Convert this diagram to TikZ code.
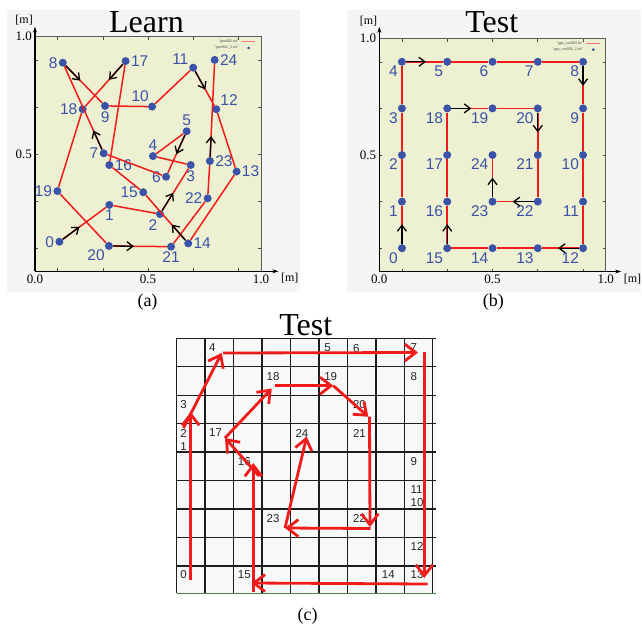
\documentclass[tikz,border=0pt]{standalone}
\usepackage{fontspec}
\setmainfont{Liberation Serif}
\setsansfont{Liberation Sans}
\usepackage{tikz}
\usetikzlibrary{arrows.meta, positioning, calc}

\definecolor{ptblue}{HTML}{3A52A8}
\definecolor{trackred}{HTML}{F01C1C}
\definecolor{plotbg}{HTML}{EEF0D2}
\definecolor{panelbg}{HTML}{F4F6F6}
\definecolor{gridbg}{HTML}{F7F8F8}
\definecolor{gridline}{HTML}{1E1E1E}

\tikzstyle{dot} = [circle, fill=ptblue, inner sep=0pt, minimum size=8pt]
\tikzstyle{num} = [text=ptblue, font=\sffamily\fontsize{15.5}{16}\selectfont, inner sep=1pt]
\tikzstyle{track} = [trackred, line width=1.5pt, line join=round]
\tikzstyle{dirarrow} = [black, line width=1.3pt, -{Straight Barb[length=6pt,width=9pt]}]
\tikzstyle{axis} = [black, line width=1.6pt, -{Stealth[length=6pt,width=4pt]}]
\tikzstyle{frameline} = [black!65, line width=0.8pt]
\tikzstyle{tickmark} = [black!70, line width=0.6pt]
\tikzstyle{ticklbl} = [font=\fontsize{13}{14}\selectfont, inner sep=0pt]
\tikzstyle{unitlbl} = [font=\fontsize{12}{14}\selectfont, inner sep=0pt]
\tikzstyle{title} = [font=\fontsize{32}{36}\selectfont, inner sep=0pt, anchor=base]
\tikzstyle{caption} = [font=\fontsize{18}{20}\selectfont, inner sep=0pt, anchor=base]
\tikzstyle{legend} = [text=black!70, font=\sffamily\fontsize{3.6}{4}\selectfont, inner sep=0pt, anchor=east]
\tikzstyle{cellnum} = [text=black!85, font=\sffamily\fontsize{11.5}{13}\selectfont,
  inner sep=0pt, anchor=north west, align=left, xshift=3.5pt, yshift=-5.5pt]
\tikzstyle{bigarrow} = [trackred, line width=2.8pt, -{Straight Barb[length=11pt,width=17pt]}]

% axes, border, ticks of one gnuplot panel (data coordinates 0..1)
\newcommand{\plotframe}[2]{%
  \fill[plotbg] (0,0) rectangle (1,1);
  \draw[frameline] (0,1) -- (1,1) -- (1,0);
  \foreach \tk in {0.1,0.3,0.5,0.7,0.9} {
    \draw[tickmark] (\tk,0) -- ++(0,3pt) (\tk,1) -- ++(0,-3pt)
                    (0,\tk) -- ++(3pt,0) (1,\tk) -- ++(-3pt,0);
  }
  \coordinate (ytip) at (0,#1);
  \coordinate (xtip) at (#2,0);
  \draw[axis] (0,0) -- (ytip);
  \draw[axis] (0,0) -- (xtip);
  \node[ticklbl, left=3pt] (y10) at (0,1) {1.0};
  \node[ticklbl, left=3pt] (y05) at (0,0.5) {0.5};
  \node[ticklbl, below=3pt] (x00) at (0,0) {0.0};
  \node[ticklbl, below=3pt] (x05) at (0.5,0) {0.5};
  \node[ticklbl, below=3pt] (x10) at (1,0) {1.0};
  \node[unitlbl, above left=1pt and 2pt of ytip] (yunit) {[m]};
  \node[unitlbl, below right=2pt and 2.5pt of xtip] (xunit) {[m]};
}
\newcommand{\plotlegend}[2]{%
  \node[legend] (leg1) at (0.900,0.980) {#1};
  \node[legend] (leg2) at (0.900,0.952) {#2};
  \coordinate (legs) at (0.915,0.980);
  \coordinate (lege) at (0.975,0.980);
  \draw[trackred!60, line width=0.6pt] (legs) -- (lege);
  \fill[ptblue] (0.945,0.952) circle (1.5pt);
}

\begin{document}
\begin{tikzpicture}[x=1pt, y=-1pt]
  \useasboundingbox (0,0) rectangle (642,627);

  % (a) learning run
  \fill[panelbg] (7,10) rectangle (300,292);
  \begin{scope}[shift={(35pt,-271.3pt)}, x=226pt, y=234.6pt]
    \plotframe{1.043}{1.077}
    \plotlegend{"geo002.txt"}{"geo002\_2.txt"}
    \node[dot, label={[num]left:0}] (a0) at (0.108,0.126) {};
    \node[dot, label={[num]below:1}] (a1) at (0.329,0.283) {};
    \node[dot, label={[num]250:2}] (a2) at (0.553,0.244) {};
    \node[dot, label={[num]below:3}] (a3) at (0.689,0.453) {};
    \node[dot, label={[num]above:4}] (a4) at (0.522,0.491) {};
    \node[dot, label={[num]above:5}] (a5) at (0.671,0.597) {};
    \node[dot, label={[num]left:6}] (a6) at (0.580,0.403) {};
    \node[dot, label={[num]left:7}] (a7) at (0.304,0.503) {};
    \node[dot, label={[num]left:8}] (a8) at (0.123,0.889) {};
    \node[dot, label={[num]below:9}] (a9) at (0.310,0.705) {};
    \node[dot, label={[num]120:10}] (a10) at (0.518,0.702) {};
    \node[dot, label={[num]150:11}] (a11) at (0.700,0.868) {};
    \node[dot, label={[num]45:12}] (a12) at (0.802,0.691) {};
    \node[dot, label={[num]right:13}] (a13) at (0.892,0.425) {};
    \node[dot, label={[num]right:14}] (a14) at (0.678,0.119) {};
    \node[dot, label={[num]left:15}] (a15) at (0.479,0.337) {};
    \node[dot, label={[num]right:16}] (a16) at (0.329,0.453) {};
    \node[dot, label={[num]right:17}] (a17) at (0.401,0.896) {};
    \node[dot, label={[num]left:18}] (a18) at (0.211,0.691) {};
    \node[dot, label={[num]left:19}] (a19) at (0.099,0.342) {};
    \node[dot, label={[num]below left:20}] (a20) at (0.327,0.108) {};
    \node[dot, label={[num]below:21}] (a21) at (0.602,0.105) {};
    \node[dot, label={[num]left:22}] (a22) at (0.764,0.311) {};
    \node[dot, label={[num]right:23}] (a23) at (0.774,0.470) {};
    \node[dot, label={[num]right:24}] (a24) at (0.795,0.901) {};
    \draw[track] (a0) -- (a1) -- (a2) -- (a3) -- (a4) -- (a5) -- (a6) -- (a7) -- (a8)
      -- (a9) -- (a10) -- (a11) -- (a12) -- (a13) -- (a14) -- (a15) -- (a16) -- (a17)
      -- (a18) -- (a19) -- (a20) -- (a21) -- (a22) -- (a23) -- (a24);
    \draw[dirarrow] (a0) -- ($(a0)!25pt!(a1)$);
    \draw[dirarrow] (a2) -- ($(a2)!25pt!(a3)$);
    \draw[dirarrow] (a5) -- ($(a5)!25pt!(a6)$);
    \draw[dirarrow] (a7) -- ($(a7)!25pt!(a8)$);
    \draw[dirarrow] (a8) -- ($(a8)!25pt!(a9)$);
    \draw[dirarrow] (a11) -- ($(a11)!25pt!(a12)$);
    \draw[dirarrow] (a14) -- ($(a14)!25pt!(a15)$);
    \draw[dirarrow] (a17) -- ($(a17)!25pt!(a18)$);
    \draw[dirarrow] (a20) -- ($(a20)!25pt!(a21)$);
    \draw[dirarrow] (a23) -- ($(a23)!25pt!(a24)$);
  \end{scope}
  \node[title] (learn) at (146.5,32) {Learn};
  \node[caption] (capa) at (147.5,306) {(a)};

  % (b) test run
  \fill[panelbg] (346.7,10) rectangle (641,292);
  \begin{scope}[shift={(379.3pt,-271.5pt)}, x=226.4pt, y=233pt]
    \plotframe{1.05}{1.068}
    \plotlegend{"gps\_run003.txt"}{"gps\_run003\_2.txt"}
    \node[dot, label={[num]below left:0}] (b0) at (0.1,0.1) {};
    \node[dot, label={[num]below left:1}] (b1) at (0.1,0.3) {};
    \node[dot, label={[num]below left:2}] (b2) at (0.1,0.5) {};
    \node[dot, label={[num]below left:3}] (b3) at (0.1,0.7) {};
    \node[dot, label={[num]below left:4}] (b4) at (0.1,0.9) {};
    \node[dot, label={[num]below left:5}] (b5) at (0.3,0.9) {};
    \node[dot, label={[num]below left:6}] (b6) at (0.5,0.9) {};
    \node[dot, label={[num]below left:7}] (b7) at (0.7,0.9) {};
    \node[dot, label={[num]below left:8}] (b8) at (0.9,0.9) {};
    \node[dot, label={[num]below left:9}] (b9) at (0.9,0.7) {};
    \node[dot, label={[num]below left:10}] (b10) at (0.9,0.5) {};
    \node[dot, label={[num]below left:11}] (b11) at (0.9,0.3) {};
    \node[dot, label={[num]below left:12}] (b12) at (0.9,0.1) {};
    \node[dot, label={[num]below left:13}] (b13) at (0.7,0.1) {};
    \node[dot, label={[num]below left:14}] (b14) at (0.5,0.1) {};
    \node[dot, label={[num]below left:15}] (b15) at (0.3,0.1) {};
    \node[dot, label={[num]below left:16}] (b16) at (0.3,0.3) {};
    \node[dot, label={[num]below left:17}] (b17) at (0.3,0.5) {};
    \node[dot, label={[num]below left:18}] (b18) at (0.3,0.7) {};
    \node[dot, label={[num]below left:19}] (b19) at (0.5,0.7) {};
    \node[dot, label={[num]below left:20}] (b20) at (0.7,0.7) {};
    \node[dot, label={[num]below left:21}] (b21) at (0.7,0.5) {};
    \node[dot, label={[num]below left:22}] (b22) at (0.7,0.3) {};
    \node[dot, label={[num]below left:23}] (b23) at (0.5,0.3) {};
    \node[dot, label={[num]below left:24}] (b24) at (0.5,0.5) {};
    \draw[track] (b0) -- (b1) -- (b2) -- (b3) -- (b4) -- (b5) -- (b6) -- (b7) -- (b8)
      -- (b9) -- (b10) -- (b11) -- (b12) -- (b13) -- (b14) -- (b15) -- (b16) -- (b17)
      -- (b18) -- (b19) -- (b20) -- (b21) -- (b22) -- (b23) -- (b24);
    \draw[dirarrow] (b0) -- ($(b0)!24pt!(b1)$);
    \draw[dirarrow] (b4) -- ($(b4)!24pt!(b5)$);
    \draw[dirarrow] (b8) -- ($(b8)!24pt!(b9)$);
    \draw[dirarrow] (b12) -- ($(b12)!25pt!(b13)$);
    \draw[dirarrow] (b15) -- ($(b15)!24pt!(b16)$);
    \draw[dirarrow] (b18) -- ($(b18)!24pt!(b19)$);
    \draw[dirarrow] (b20) -- ($(b20)!24pt!(b21)$);
    \draw[dirarrow] (b22) -- ($(b22)!25pt!(b23)$);
    \draw[dirarrow] (b23) -- ($(b23)!24pt!(b24)$);
  \end{scope}
  \node[title] (testb) at (491.7,32) {Test};
  \node[caption] (capb) at (493.3,306) {(b)};

  % (c) test run on the floor grid
  \node[title] (testc) at (305.7,335) {Test};
  \fill[gridbg] (176.7,338.3) rectangle (435.7,593.3);
  \begin{scope}[shift={(176.7pt,-338.3pt)}, x=28.78pt, y=-28.33pt]
    \draw[gridline, line width=1.4pt] (0,0) grid (9,9);
    \draw[green!30!black!70, line width=1.4pt] (0,9) -- (9,9);
    \node[cellnum] (g4) at (1,0) {4};
    \node[cellnum] (g5) at (5,0) {5};
    \node[cellnum] (g6) at (6,0) {6};
    \node[cellnum] (g7) at (8,0) {7};
    \node[cellnum] (g18) at (3,1) {18};
    \node[cellnum] (g19) at (5,1) {19};
    \node[cellnum] (g8) at (8,1) {8};
    \node[cellnum] (g3) at (0,2) {3};
    \node[cellnum] (g20) at (6,2) {20};
    \node[cellnum] (g2) at (0,3) {2\\1};
    \node[cellnum] (g17) at (1,3) {17};
    \node[cellnum] (g24) at (4,3) {24};
    \node[cellnum] (g21) at (6,3) {21};
    \node[cellnum] (g16) at (2,4) {16};
    \node[cellnum] (g9) at (8,4) {9};
    \node[cellnum] (g11) at (8,5) {11\\10};
    \node[cellnum] (g23) at (3,6) {23};
    \node[cellnum] (g22) at (6,6) {22};
    \node[cellnum] (g12) at (8,7) {12};
    \node[cellnum] (g0) at (0,8) {0};
    \node[cellnum] (g15) at (2,8) {15};
    \node[cellnum] (g14) at (7,8) {14};
    \node[cellnum] (g13) at (8,8) {13};
  \end{scope}
  \coordinate (p0) at (190.7,580);
  \coordinate (p3) at (190.7,412);
  \coordinate (p2) at (183.5,428);
  \coordinate (p4) at (221.7,353);
  \coordinate (p4b) at (223,353);
  \coordinate (p7) at (418,352.5);
  \coordinate (p7b) at (424.3,352);
  \coordinate (p13) at (424.3,578);
  \coordinate (p13b) at (427.5,584);
  \coordinate (p15) at (251.7,583);
  \coordinate (p15b) at (253.3,591.5);
  \coordinate (p16) at (253.3,463);
  \coordinate (p16b) at (259,476);
  \coordinate (p17) at (225,438);
  \coordinate (p18) at (271.7,388.5);
  \coordinate (p18b) at (275,385.7);
  \coordinate (p19) at (333.3,385.7);
  \coordinate (p20) at (368.3,416.7);
  \coordinate (p20b) at (369.5,416.7);
  \coordinate (p22) at (370,527);
  \coordinate (p22b) at (370.5,528.5);
  \coordinate (p23) at (285,528);
  \coordinate (p24) at (306.7,436.5);
  \draw[bigarrow] (p0) -- (p3);
  \draw[bigarrow] (p2) -- (p4);
  \draw[bigarrow] (p4b) -- (p7);
  \draw[bigarrow] (p7b) -- (p13);
  \draw[bigarrow] (p13b) -- (p15);
  \draw[bigarrow] (p15b) -- (p16);
  \draw[bigarrow] (p16b) -- (p17);
  \draw[bigarrow] (p17) -- (p18);
  \draw[bigarrow] (p18b) -- (p19);
  \draw[bigarrow] (p19) -- (p20);
  \draw[bigarrow] (p20b) -- (p22);
  \draw[bigarrow] (p22b) -- (p23);
  \draw[bigarrow] (p23) -- (p24);
  \node[caption] (capc) at (307.5,620) {(c)};
\end{tikzpicture}
\end{document}
